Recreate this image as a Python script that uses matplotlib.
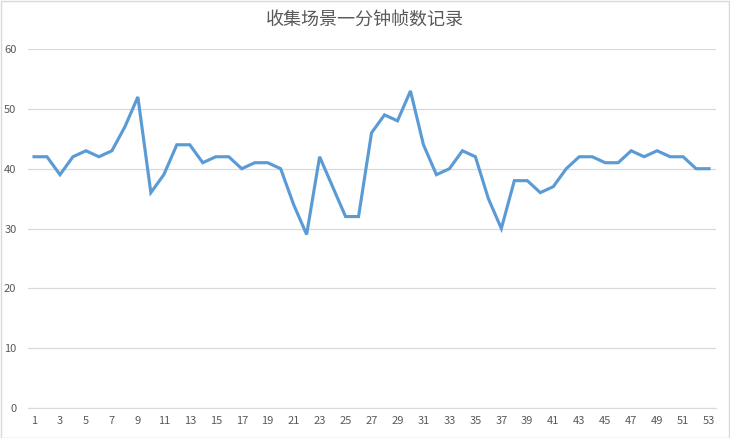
import matplotlib
matplotlib.use("Agg")
import matplotlib.pyplot as plt
from matplotlib.patches import Rectangle

plt.rcParams['font.family'] = ['Noto Sans CJK SC', 'DejaVu Sans']

title = "收集场景一分钟帧数记录"
x_vals = list(range(1, 54))
fps = [42, 42, 39, 42, 43, 42, 43, 47, 52, 36,
       39, 44, 44, 41, 42, 42, 40, 41, 41, 40,
       34, 29, 42, 37, 32, 32, 46, 49, 48, 53,
       44, 39, 40, 43, 42, 35, 30, 38, 38, 36,
       37, 40, 42, 42, 41, 41, 43, 42, 43, 42,
       42, 40, 40]
y_ticks = [0, 10, 20, 30, 40, 50, 60]
x_ticks = list(range(1, 54, 2))

fig = plt.figure(figsize=(7.3, 4.38), dpi=100)
fig.patches.append(Rectangle((0.001, 0.001), 0.998, 0.997, transform=fig.transFigure,
                             fill=False, edgecolor='#d9d9d9', linewidth=1))
ax = fig.add_axes([0.0377, 0.0685, 0.9425, 0.8195])
ax.plot(x_vals, fps, color='#5B9BD5', linewidth=2.25, solid_joinstyle='miter')
ax.set_xlim(0.5, 53.5)
ax.set_ylim(0, 60)
ax.set_yticks(y_ticks)
ax.set_xticks(x_ticks)
ax.grid(axis='y', color='#d9d9d9', linewidth=0.9)
ax.set_axisbelow(True)
for s in ['top', 'right', 'left']:
    ax.spines[s].set_visible(False)
ax.spines['bottom'].set_color('#d9d9d9')
ax.tick_params(axis='both', length=0, labelsize=8, colors='#595959')
ax.tick_params(axis='y', pad=8)
ax.tick_params(axis='x', pad=6)
fig.text(0.5, 0.955, title, ha='center', va='center', fontsize=13, color='#595959')
fig.savefig('out.png', dpi=100)
